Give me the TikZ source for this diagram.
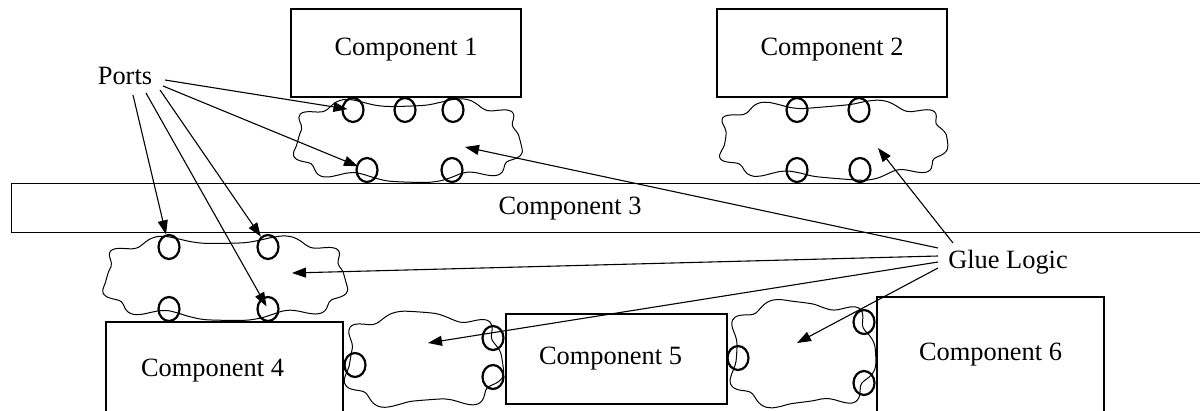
\documentclass[tikz,border=0pt]{standalone}
\usepackage{fontspec}
\setmainfont{Liberation Serif}
\usetikzlibrary{arrows.meta,shapes.geometric}
\newcommand\gluecloud[7]{% cx cy a b k phase amplitude
  \draw[cloudline] plot[smooth cycle, domain=2.5:357.5, samples=72, variable=\t]
   ({#1 + #3*cos(\t)/abs(cos(\t))^0.4 + #7*cos(\t)*sin(#5*\t+#6)},
    {#2 + #4*sin(\t)/abs(sin(\t))^0.4 + #7*sin(\t)*sin(#5*\t+#6)});}
\begin{document}
\begin{tikzpicture}[x=1pt,y=-1pt,
  every node/.style={font=\fontsize{26.4}{30}\selectfont},
  comp/.style={draw, line width=1.2pt, inner sep=0pt},
  comptop/.style={comp, minimum width=230pt, minimum height=88pt, text height=18pt, text depth=12.6pt},
  port/.style={ellipse, draw, line width=2.2pt, minimum width=21pt, minimum height=24pt, inner sep=0pt},
  cloudline/.style={line width=1pt},
  arr/.style={line width=1.1pt, -{Triangle[length=14pt,width=10pt]}},
  lbl/.style={inner sep=0pt}]
\clip (0,0) rectangle (1200,410);

% glue logic clouds
\gluecloud{407.5}{140}{111}{38}{9}{20}{4.5}
\gluecloud{832.5}{140}{111}{36}{9}{60}{4.5}
\gluecloud{225}{277.5}{119}{38.5}{9}{10}{4.5}
\gluecloud{423}{360}{76}{44}{7}{40}{5}
\gluecloud{801.5}{354}{69.5}{50}{7}{70}{5}

% components
\node[comptop] (c1) at (406,53) {Component 1};
\node[comptop] (c2) at (832,53) {Component 2};
\node[comp, minimum width=1230pt, minimum height=49pt, anchor=north west] (c3) at (11,183) {};
\node[lbl] (c3t) at (570,209) {Component 3};
\node[comp, minimum width=237pt, minimum height=97pt] (c4) at (224.5,370.5) {\hspace*{-24pt}Component 4};
\node[comp, minimum width=221pt, minimum height=90pt] (c5) at (616.5,359) {\hspace*{-12pt}Component 5};
\node[comp, minimum width=227pt, minimum height=116pt] (c6) at (990.5,355) {Component 6};

% ports
\node[port] (p1a) at (353,110) {};
\node[port] (p1b) at (405,110) {};
\node[port] (p1c) at (453,110) {};
\node[port] (p1d) at (367,170) {};
\node[port] (p1e) at (452,170) {};
\node[port] (p2a) at (797,110) {};
\node[port] (p2b) at (859,110) {};
\node[port] (p2c) at (797,170) {};
\node[port] (p2d) at (860,170) {};
\node[port] (p3a) at (169,247) {};
\node[port] (p3b) at (268,247) {};
\node[port] (p3c) at (169,309) {};
\node[port] (p3d) at (268,309) {};
\node[port] (p4a) at (355,365) {};
\node[port] (p4b) at (493,338) {};
\node[port] (p4c) at (493,377) {};
\node[port] (p5a) at (738,358) {};
\node[port] (p5b) at (864,322) {};
\node[port] (p5c) at (864,383) {};

% labels
\node[lbl] (ports) at (125,76) {Ports};
\node[lbl] (gl) at (1008,262.5) {Glue Logic};

% port arrows
\coordinate (ps1) at (165,80);
\coordinate (ps2) at (163,86);
\coordinate (ps3) at (160,90);
\coordinate (ps4) at (146,93);
\coordinate (ps5) at (133,95);
\draw[arr, shorten >=-6pt] (ps1) -- (p1a);
\draw[arr, shorten >=-2pt] (ps2) -- (p1d);
\draw[arr] (ps3) -- (p3b);
\draw[arr, shorten >=3pt] (ps4) -- (p3d.center);
\draw[arr] (ps5) -- (p3a);

% glue logic arrows
\coordinate (gs1) at (938,248);
\coordinate (gs2) at (953,243);
\coordinate (gs3) at (938,256);
\coordinate (gs4) at (938,262);
\coordinate (gs5) at (938,268);
\coordinate (gt1) at (465,147);
\coordinate (gt2) at (878,148);
\coordinate (gt3) at (292,273);
\coordinate (gt4) at (428,343);
\coordinate (gt5) at (797,343);
\draw[arr] (gs1) -- (gt1);
\draw[arr] (gs2) -- (gt2);
\draw[arr] (gs3) -- (gt3);
\draw[arr] (gs4) -- (gt4);
\draw[arr] (gs5) -- (gt5);
\end{tikzpicture}
\end{document}
